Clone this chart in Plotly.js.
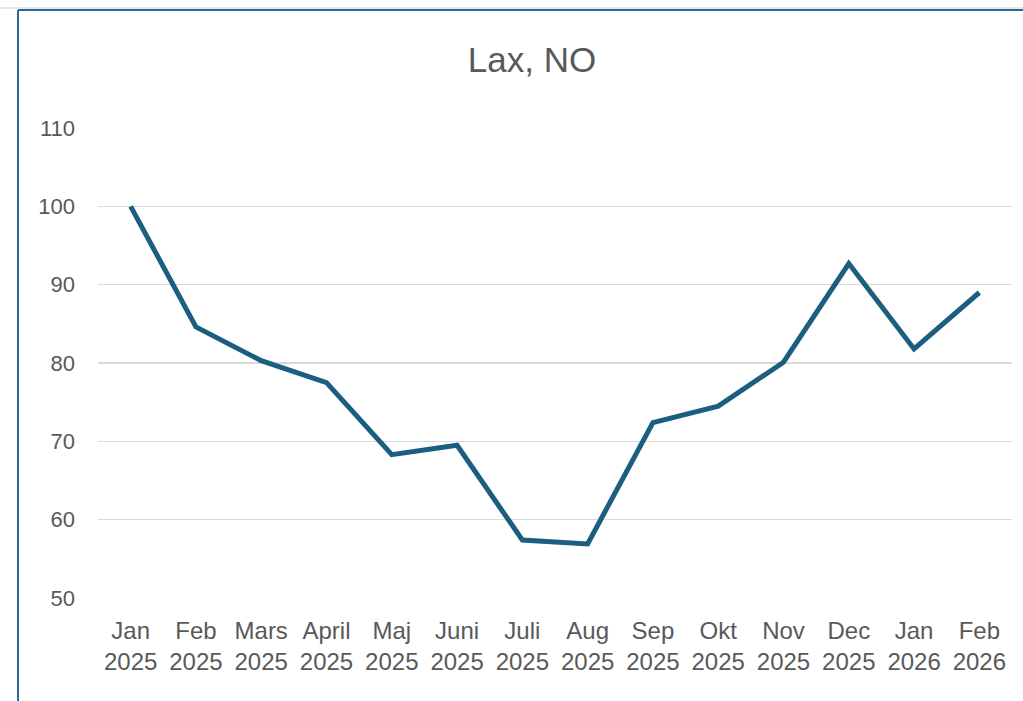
<!DOCTYPE html>
<html>
<head>
<meta charset="utf-8">
<script src="https://cdn.plot.ly/plotly-3.0.1.min.js"></script>
<style>
  html, body { margin: 0; padding: 0; background: #ffffff; }
  #chart { width: 1023px; height: 701px; }
</style>
</head>
<body>
<div id="chart"></div>
<script>
const months = ["Jan", "Feb", "Mars", "April", "Maj", "Juni", "Juli", "Aug", "Sep", "Okt", "Nov", "Dec", "Jan", "Feb"];
const years = ["2025", "2025", "2025", "2025", "2025", "2025", "2025", "2025", "2025", "2025", "2025", "2025", "2026", "2026"];
const values = [100, 84.6, 80.3, 77.5, 68.3, 69.5, 57.4, 56.9, 72.4, 74.5, 80.1, 92.7, 81.8, 89.0];
const yTicks = [50, 60, 70, 80, 90, 100, 110];

const categories = months.map((m, i) => i);
const tickText = months.map((m, i) => m + "<br>" + years[i]);

const trace = {
  x: categories,
  y: values,
  type: "scatter",
  mode: "lines",
  line: { color: "#1b5e80", width: 5 },
  hoverinfo: "none"
};

const L = 98, R = 11, T = 128, B = 103;
const plotW = 1023 - L - R, plotH = 701 - T - B;
const px = v => (v - L) / plotW;
const py = v => (701 - B - v) / plotH;

const layout = {
  width: 1023,
  height: 701,
  margin: { l: L, r: R, t: T, b: B, pad: 0 },
  paper_bgcolor: "#ffffff",
  plot_bgcolor: "#ffffff",
  showlegend: false,
  title: {
    text: "Lax, NO",
    font: { family: "Liberation Sans, Arial, sans-serif", size: 35, color: "#595959" },
    xref: "container", yref: "container",
    x: 532 / 1023, xanchor: "center",
    y: 1 - 60 / 701, yanchor: "middle"
  },
  xaxis: {
    type: "linear",
    range: [-0.5, 13.5],
    tickmode: "array",
    tickvals: categories,
    ticktext: tickText,
    showgrid: false,
    zeroline: false,
    showline: false,
    ticks: "",
    ticklabelstandoff: 16,
    tickfont: { family: "Liberation Sans, Arial, sans-serif", size: 24, color: "#595959" },
    fixedrange: true
  },
  yaxis: {
    range: [50, 110],
    tickmode: "array",
    tickvals: yTicks,
    ticktext: yTicks.map(String),
    showgrid: true,
    gridcolor: "#d9d9d9",
    gridwidth: 1.5,
    zeroline: false,
    showline: false,
    ticks: "",
    ticklabelstandoff: 22,
    tickfont: { family: "Liberation Sans, Arial, sans-serif", size: 22, color: "#595959" },
    fixedrange: true
  },
  shapes: [
    { type: "line", xref: "paper", yref: "paper", x0: px(0), x1: px(1023), y0: py(8), y1: py(8),
      line: { color: "#d0d0d0", width: 1 } },
    { type: "line", xref: "paper", yref: "paper", x0: px(18), x1: px(1023), y0: py(10), y1: py(10),
      line: { color: "#2a6a94", width: 2 } },
    { type: "line", xref: "paper", yref: "paper", x0: px(18), x1: px(18), y0: py(10), y1: py(701),
      line: { color: "#2a6a94", width: 2 } }
  ]
};

Plotly.newPlot("chart", [trace], layout, { displayModeBar: false, staticPlot: true });
</script>
</body>
</html>
